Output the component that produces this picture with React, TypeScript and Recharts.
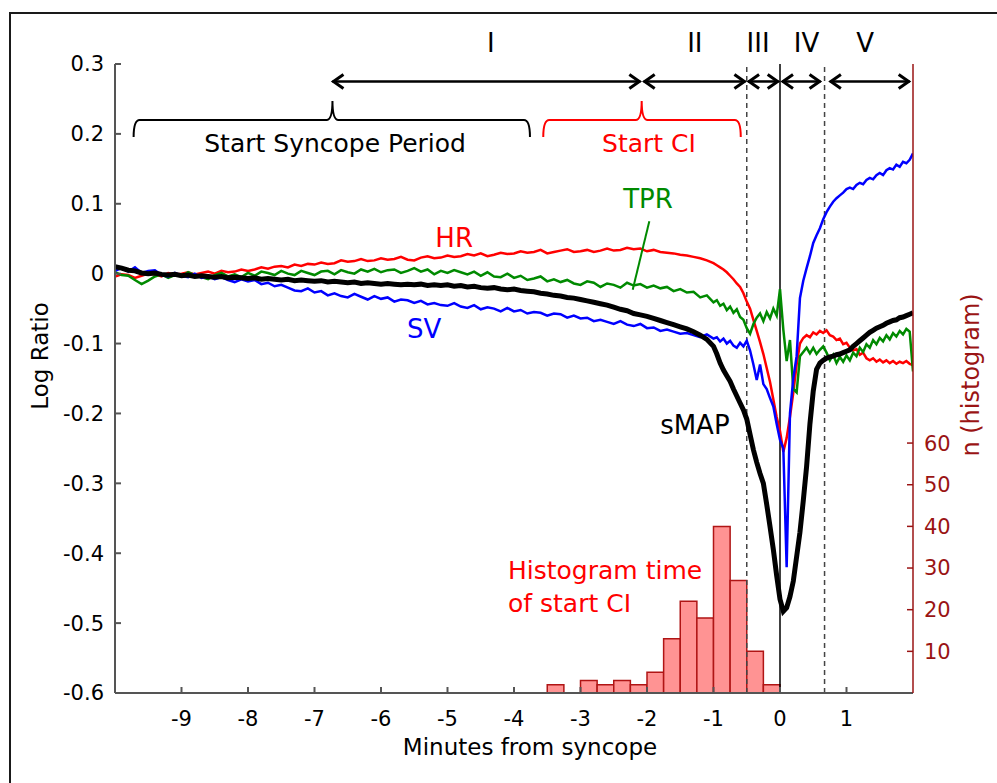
import React from "react";
import {
  ComposedChart,
  Line,
  XAxis,
  YAxis,
  ReferenceLine,
  ReferenceArea,
  ReferenceDot,
} from "recharts";

// sampling grid: 0.1 min steps up to -1, then 0.05 min steps to +2
const coarseCount = 91;
const fineCount = 60;
const minutes = [
  ...Array.from({ length: coarseCount }, (_, i) => Math.round((-10 + i * 0.1) * 100) / 100),
  ...Array.from({ length: fineCount }, (_, i) => Math.round((-0.95 + i * 0.05) * 100) / 100),
];

const hrValues = [
  // -10.0 .. -1.0
  -0.004, -0.001, -0.002, -0.006, -0.003, 0.0, -0.001, -0.004, 0.001, -0.001,
  0.0, 0.002, -0.001, 0.001, 0.003, 0.0, 0.004, 0.002, 0.003, 0.006,
  0.004, 0.006, 0.009, 0.007, 0.01, 0.011, 0.009, 0.013, 0.011, 0.014,
  0.013, 0.016, 0.014, 0.015, 0.019, 0.017, 0.018, 0.021, 0.018, 0.019,
  0.022, 0.02, 0.021, 0.024, 0.02, 0.019, 0.023, 0.025, 0.022, 0.023,
  0.026, 0.024, 0.025, 0.028, 0.026, 0.029, 0.025, 0.027, 0.03, 0.028,
  0.029, 0.032, 0.03, 0.031, 0.034, 0.029, 0.031, 0.033, 0.035, 0.031,
  0.032, 0.034, 0.031, 0.033, 0.036, 0.033, 0.034, 0.037, 0.035, 0.036,
  0.032, 0.034, 0.031, 0.03, 0.029, 0.027, 0.026, 0.024, 0.022, 0.019,
  0.015,
  // -0.95 .. 2.0
  0.012, 0.009, 0.006, 0.002, -0.003, -0.008, -0.014, -0.019, -0.028, -0.04,
  -0.05, -0.066, -0.082, -0.098, -0.115, -0.135, -0.155, -0.18, -0.205, -0.225,
  -0.255, -0.235, -0.205, -0.17, -0.13, -0.1, -0.092, -0.088, -0.091, -0.084,
  -0.087, -0.082, -0.085, -0.081, -0.088, -0.09, -0.095, -0.093, -0.101, -0.099,
  -0.106, -0.11, -0.108, -0.116, -0.113, -0.121, -0.124, -0.121, -0.126, -0.123,
  -0.127, -0.124, -0.128, -0.125, -0.129, -0.126, -0.128, -0.125, -0.129, -0.131,
];

const tprValues = [
  0.002, -0.002, -0.003, -0.009, -0.015, -0.01, -0.004, -0.001, -0.006, -0.002,
  -0.004, 0.002, -0.002, -0.005, -0.008, -0.002, 0.001, -0.004, -0.001, -0.005,
  0.001, -0.003, 0.003, 0.001, -0.002, 0.004, 0.0, -0.002, 0.004, 0.001,
  -0.002, 0.003, 0.004, -0.001, 0.005, 0.002, 0.0, 0.006, 0.003, 0.007,
  0.002, 0.005, 0.006, 0.001, 0.004, 0.008, 0.003, 0.006, -0.001, 0.004,
  0.001, 0.005, 0.002, -0.001, 0.003, -0.003, 0.002, -0.004, -0.005, 0.0,
  -0.006, -0.003, -0.009, -0.007, -0.004, -0.011, -0.008, -0.012, -0.009, -0.014,
  -0.016, -0.011, -0.013, -0.019, -0.014, -0.016, -0.02, -0.013, -0.017, -0.015,
  -0.02, -0.017, -0.021, -0.019, -0.025, -0.022, -0.027, -0.026, -0.034, -0.031,
  -0.041,
  -0.038, -0.046, -0.043, -0.052, -0.047, -0.056, -0.051, -0.062, -0.066, -0.078,
  -0.086, -0.072, -0.063, -0.057, -0.068, -0.055, -0.064, -0.05, -0.06, -0.022,
  -0.08, -0.125, -0.095, -0.165, -0.17, -0.118, -0.112, -0.106, -0.114, -0.106,
  -0.115, -0.109, -0.104, -0.113, -0.124, -0.116, -0.128, -0.119, -0.126, -0.117,
  -0.124, -0.113, -0.118, -0.106, -0.112, -0.101, -0.106, -0.095, -0.101, -0.092,
  -0.097, -0.088, -0.094, -0.085, -0.09, -0.082, -0.087, -0.079, -0.083, -0.14,
];

const svValues = [
  0.004, 0.008, 0.003, 0.009, 0.001, 0.004, 0.005, -0.002, -0.004, 0.001,
  -0.003, -0.005, 0.0, -0.006, -0.004, -0.008, -0.005, -0.009, -0.012, -0.008,
  -0.011, -0.009, -0.015, -0.013, -0.018, -0.016, -0.02, -0.024, -0.025, -0.021,
  -0.027, -0.025, -0.031, -0.028, -0.032, -0.034, -0.029, -0.033, -0.037, -0.032,
  -0.036, -0.034, -0.04, -0.037, -0.038, -0.042, -0.039, -0.044, -0.042, -0.045,
  -0.046, -0.042, -0.047, -0.049, -0.045, -0.051, -0.048, -0.05, -0.054, -0.049,
  -0.054, -0.052, -0.057, -0.055, -0.056, -0.06, -0.057, -0.058, -0.063, -0.06,
  -0.064, -0.063, -0.068, -0.066, -0.069, -0.072, -0.068, -0.073, -0.075, -0.072,
  -0.078, -0.077, -0.082, -0.08, -0.083, -0.086, -0.085, -0.088, -0.091, -0.087,
  -0.093,
  -0.091, -0.097, -0.093, -0.1, -0.096, -0.103, -0.106, -0.099, -0.104, -0.096,
  -0.11, -0.13, -0.152, -0.13, -0.158, -0.165, -0.178, -0.19, -0.215, -0.238,
  -0.25, -0.42, -0.2, -0.15, -0.118, -0.035, -0.01, 0.008, 0.025, 0.044,
  0.055, 0.065, 0.078, 0.088, 0.096, 0.103, 0.108, 0.112, 0.116, 0.121,
  0.123, 0.121, 0.127, 0.13, 0.128, 0.134, 0.137, 0.135, 0.141, 0.144,
  0.141, 0.148, 0.151, 0.149, 0.156, 0.153, 0.16, 0.158, 0.163, 0.172,
];

const smapValues = [
  0.01, 0.008, 0.005, 0.004, 0.001, 0.0, 0.001, -0.001, -0.002, -0.001,
  -0.003, -0.002, -0.004, -0.003, -0.004, -0.005, -0.004, -0.006, -0.005, -0.006,
  -0.007, -0.006, -0.008, -0.007, -0.008, -0.009, -0.008, -0.01, -0.009, -0.01,
  -0.011, -0.01, -0.012, -0.011, -0.012, -0.013, -0.012, -0.014, -0.013, -0.014,
  -0.015, -0.014, -0.015, -0.016, -0.015, -0.016, -0.015, -0.017, -0.016, -0.017,
  -0.016, -0.018, -0.017, -0.019, -0.018, -0.02, -0.021, -0.02, -0.022, -0.023,
  -0.022, -0.024, -0.025, -0.026, -0.028, -0.029, -0.031, -0.032, -0.034, -0.035,
  -0.037, -0.039, -0.041, -0.043, -0.045, -0.048, -0.051, -0.053, -0.057, -0.059,
  -0.061, -0.064, -0.067, -0.07, -0.073, -0.076, -0.079, -0.083, -0.088, -0.094,
  -0.104,
  -0.115, -0.128, -0.138, -0.146, -0.154, -0.165, -0.175, -0.185, -0.195, -0.208,
  -0.23, -0.252, -0.27, -0.286, -0.3, -0.33, -0.362, -0.395, -0.432, -0.466,
  -0.483, -0.478, -0.462, -0.44, -0.405, -0.37, -0.325, -0.276, -0.215, -0.168,
  -0.137, -0.128, -0.124, -0.121, -0.119, -0.118, -0.116, -0.115, -0.113, -0.111,
  -0.109, -0.104, -0.1, -0.096, -0.092, -0.088, -0.084, -0.081, -0.078, -0.076,
  -0.074, -0.071, -0.069, -0.067, -0.066, -0.063, -0.062, -0.06, -0.058, -0.056,
];

// histogram of start-CI times, 0.25 min bins
const binStarts = [
  -4, -3.75, -3.5, -3.25, -3, -2.75, -2.5, -2.25, -2, -1.75, -1.5, -1.25,
  -1, -0.75, -0.5, -0.25, 0, 0.25, 0.5, 0.75, 1, 1.25, 1.5, 1.75,
];
const binCounts = [0, 0, 2, 0, 3, 2, 3, 2, 5, 13, 22, 18, 40, 27, 10, 2, 0, 0, 0, 0, 0, 0, 0, 0];
const binWidth = 0.25;

const xTicks = [-9, -8, -7, -6, -5, -4, -3, -2, -1, 0, 1];
const logTicks = [0.3, 0.2, 0.1, 0, -0.1, -0.2, -0.3, -0.4, -0.5, -0.6];
const nTicks = [10, 20, 30, 40, 50, 60];

const phaseNames = ["I", "II", "III", "IV", "V"];
const phaseStart = [-6.73, -2.05, -0.48, 0.03, 0.75];
const phaseEnd = [-2.1, -0.52, -0.02, 0.61, 1.95];
const phaseLabelAt = [-4.35, -1.28, -0.33, 0.4, 1.28];
const phaseY = 0.275;
const phaseBounds = [-0.5, 0, 0.67];

const braceY = 0.22;

const data = minutes.map((t, i) => ({
  t,
  hr: hrValues[i],
  tpr: tprValues[i],
  sv: svValues[i],
  smap: smapValues[i],
}));

const FONT = "DejaVu Sans";
const DARK_RED = "#9a1414";

const arrowShape =
  (label: string, labelAt: number, from: number, to: number) => (p: any) => {
    const { x1, x2, y1 } = p;
    const lx = x1 + ((labelAt - from) / (to - from)) * (x2 - x1);
    return (
      <g>
        <line x1={x1} y1={y1} x2={x2} y2={y1} stroke="#000" strokeWidth={2.5} />
        <polyline
          points={`${x1 + 11},${y1 - 7} ${x1 + 1},${y1} ${x1 + 11},${y1 + 7}`}
          fill="none"
          stroke="#000"
          strokeWidth={3}
        />
        <polyline
          points={`${x2 - 11},${y1 - 7} ${x2 - 1},${y1} ${x2 - 11},${y1 + 7}`}
          fill="none"
          stroke="#000"
          strokeWidth={3}
        />
        <text x={lx} y={y1 - 39} dy="0.35em" textAnchor="middle" fontSize={26} fill="#000">
          {label}
        </text>
      </g>
    );
  };

const braceShape = (peak: number, from: number, to: number, color: string) => (p: any) => {
  const { x1, x2, y1 } = p;
  const pk = x1 + ((peak - from) / (to - from)) * (x2 - x1);
  const y = y1;
  const d = `M${x1},${y + 17} Q${x1},${y} ${x1 + 6},${y} L${pk - 6},${y} Q${pk},${y} ${pk},${y - 19} Q${pk},${y} ${pk + 6},${y} L${x2 - 6},${y} Q${x2},${y} ${x2},${y + 17}`;
  return <path d={d} fill="none" stroke={color} strokeWidth={2} />;
};

const textShape =
  (lines: string[], color: string, size: number, anchor: "start" | "middle" = "middle") =>
  (p: any) => (
    <text x={p.cx} y={p.cy} textAnchor={anchor} fontSize={size} fill={color}>
      {lines.map((s, i) => (
        <tspan key={i} x={p.cx} dy={i === 0 ? "0.35em" : "1.3em"}>
          {s}
        </tspan>
      ))}
    </text>
  );

export default function App() {
  return (
    <div style={{ position: "absolute", left: 0, top: 0, width: 997, height: 783, background: "#fff", fontFamily: FONT }}>
      <div
        style={{
          position: "absolute",
          left: 9,
          top: 12,
          width: 1000,
          height: 800,
          border: "2px solid #1a1a1a",
          boxSizing: "border-box",
        }}
      />
      <ComposedChart
        width={997}
        height={783}
        data={data}
        margin={{ top: 64, right: 24, bottom: 40, left: 55 }}
        style={{ position: "absolute", left: 0, top: 0 }}
      >
        <XAxis
          dataKey="t"
          type="number"
          domain={[-10, 2]}
          ticks={xTicks}
          interval={0}
          allowDataOverflow
          height={50}
          stroke="#555"
          strokeWidth={2}
          tickSize={-6}
          tickMargin={24}
          tick={{ fontSize: 21, fill: "#000" }}
        />
        <YAxis
          yAxisId="lr"
          type="number"
          domain={[-0.6, 0.3]}
          ticks={logTicks}
          interval={0}
          allowDataOverflow
          width={60}
          stroke="#555"
          strokeWidth={2}
          tickSize={-6}
          tickMargin={17}
          tick={{ fontSize: 21, fill: "#000" }}
        />
        <YAxis
          yAxisId="n"
          orientation="right"
          type="number"
          domain={[0, 151]}
          ticks={nTicks}
          interval={0}
          allowDataOverflow
          width={60}
          stroke={DARK_RED}
          strokeWidth={1.5}
          tickSize={-6}
          tickMargin={17}
          tick={{ fontSize: 21, fill: DARK_RED }}
        />

        {binStarts.map((b, i) =>
          binCounts[i] > 0 ? (
            <ReferenceArea
              key={`bin${i}`}
              yAxisId="n"
              x1={b}
              x2={b + binWidth}
              y1={0}
              y2={binCounts[i]}
              fill="#ff9393"
              fillOpacity={1}
              stroke="#b01515"
              strokeWidth={1.5}
            />
          ) : null
        )}
        <ReferenceLine
          yAxisId="n"
          segment={[
            { x: binStarts[0], y: 0 },
            { x: binStarts[binStarts.length - 1] + binWidth, y: 0 },
          ]}
          stroke="#b01515"
          strokeWidth={2}
        />

        <ReferenceLine yAxisId="lr" x={phaseBounds[0]} stroke="#444" strokeWidth={1.5} strokeDasharray="5 4" />
        <ReferenceLine yAxisId="lr" x={phaseBounds[1]} stroke="#000" strokeWidth={1.5} />
        <ReferenceLine yAxisId="lr" x={phaseBounds[2]} stroke="#444" strokeWidth={1.5} strokeDasharray="5 4" />

        <Line yAxisId="lr" dataKey="hr" stroke="#ff0000" strokeWidth={2.5} dot={false} activeDot={false} isAnimationActive={false} type="linear" />
        <Line yAxisId="lr" dataKey="tpr" stroke="#008a00" strokeWidth={2.5} dot={false} activeDot={false} isAnimationActive={false} type="linear" />
        <Line yAxisId="lr" dataKey="sv" stroke="#0000ff" strokeWidth={2.5} dot={false} activeDot={false} isAnimationActive={false} type="linear" />
        <Line yAxisId="lr" dataKey="smap" stroke="#000" strokeWidth={5} dot={false} activeDot={false} isAnimationActive={false} type="linear" />

        {phaseNames.map((name, i) => (
          <ReferenceLine
            key={name}
            yAxisId="lr"
            segment={[
              { x: phaseStart[i], y: phaseY },
              { x: phaseEnd[i], y: phaseY },
            ]}
            shape={arrowShape(name, phaseLabelAt[i], phaseStart[i], phaseEnd[i])}
          />
        ))}

        <ReferenceLine
          yAxisId="lr"
          segment={[
            { x: -9.72, y: braceY },
            { x: -3.76, y: braceY },
          ]}
          shape={braceShape(-6.73, -9.72, -3.76, "#000")}
        />
        <ReferenceLine
          yAxisId="lr"
          segment={[
            { x: -3.56, y: braceY },
            { x: -0.59, y: braceY },
          ]}
          shape={braceShape(-2.08, -3.56, -0.59, "#ff0000")}
        />
        <ReferenceDot yAxisId="lr" x={-6.69} y={0.186} shape={textShape(["Start Syncope Period"], "#000", 25)} />
        <ReferenceDot yAxisId="lr" x={-1.97} y={0.186} shape={textShape(["Start CI"], "#ff0000", 25)} />

        <ReferenceLine
          yAxisId="lr"
          segment={[
            { x: -1.965, y: 0.075 },
            { x: -2.215, y: -0.023 },
          ]}
          stroke="#008a00"
          strokeWidth={2}
        />
        <ReferenceDot yAxisId="lr" x={-4.9} y={0.0515} shape={textShape(["HR"], "#ff0000", 26)} />
        <ReferenceDot yAxisId="lr" x={-1.985} y={0.107} shape={textShape(["TPR"], "#008a00", 26)} />
        <ReferenceDot yAxisId="lr" x={-5.35} y={-0.079} shape={textShape(["SV"], "#0000ff", 26)} />
        <ReferenceDot yAxisId="lr" x={-1.28} y={-0.216} shape={textShape(["sMAP"], "#000", 26)} />
        <ReferenceDot
          yAxisId="lr"
          x={-4.09}
          y={-0.425}
          shape={textShape(["Histogram time", "of start CI"], "#ff0000", 25, "start")}
        />
      </ComposedChart>
      <svg
        width={997}
        height={783}
        style={{ position: "absolute", left: 0, top: 0, pointerEvents: "none" }}
      >
        <text x={530} y={755} textAnchor="middle" fontSize={23} fill="#000" fontFamily={FONT}>
          Minutes from syncope
        </text>
        <text
          transform="translate(48, 356) rotate(-90)"
          textAnchor="middle"
          fontSize={23}
          fill="#000"
          fontFamily={FONT}
        >
          Log Ratio
        </text>
        <text
          transform="translate(979, 375) rotate(-90)"
          textAnchor="middle"
          fontSize={24}
          fill={DARK_RED}
          fontFamily={FONT}
        >
          n (histogram)
        </text>
      </svg>
    </div>
  );
}
